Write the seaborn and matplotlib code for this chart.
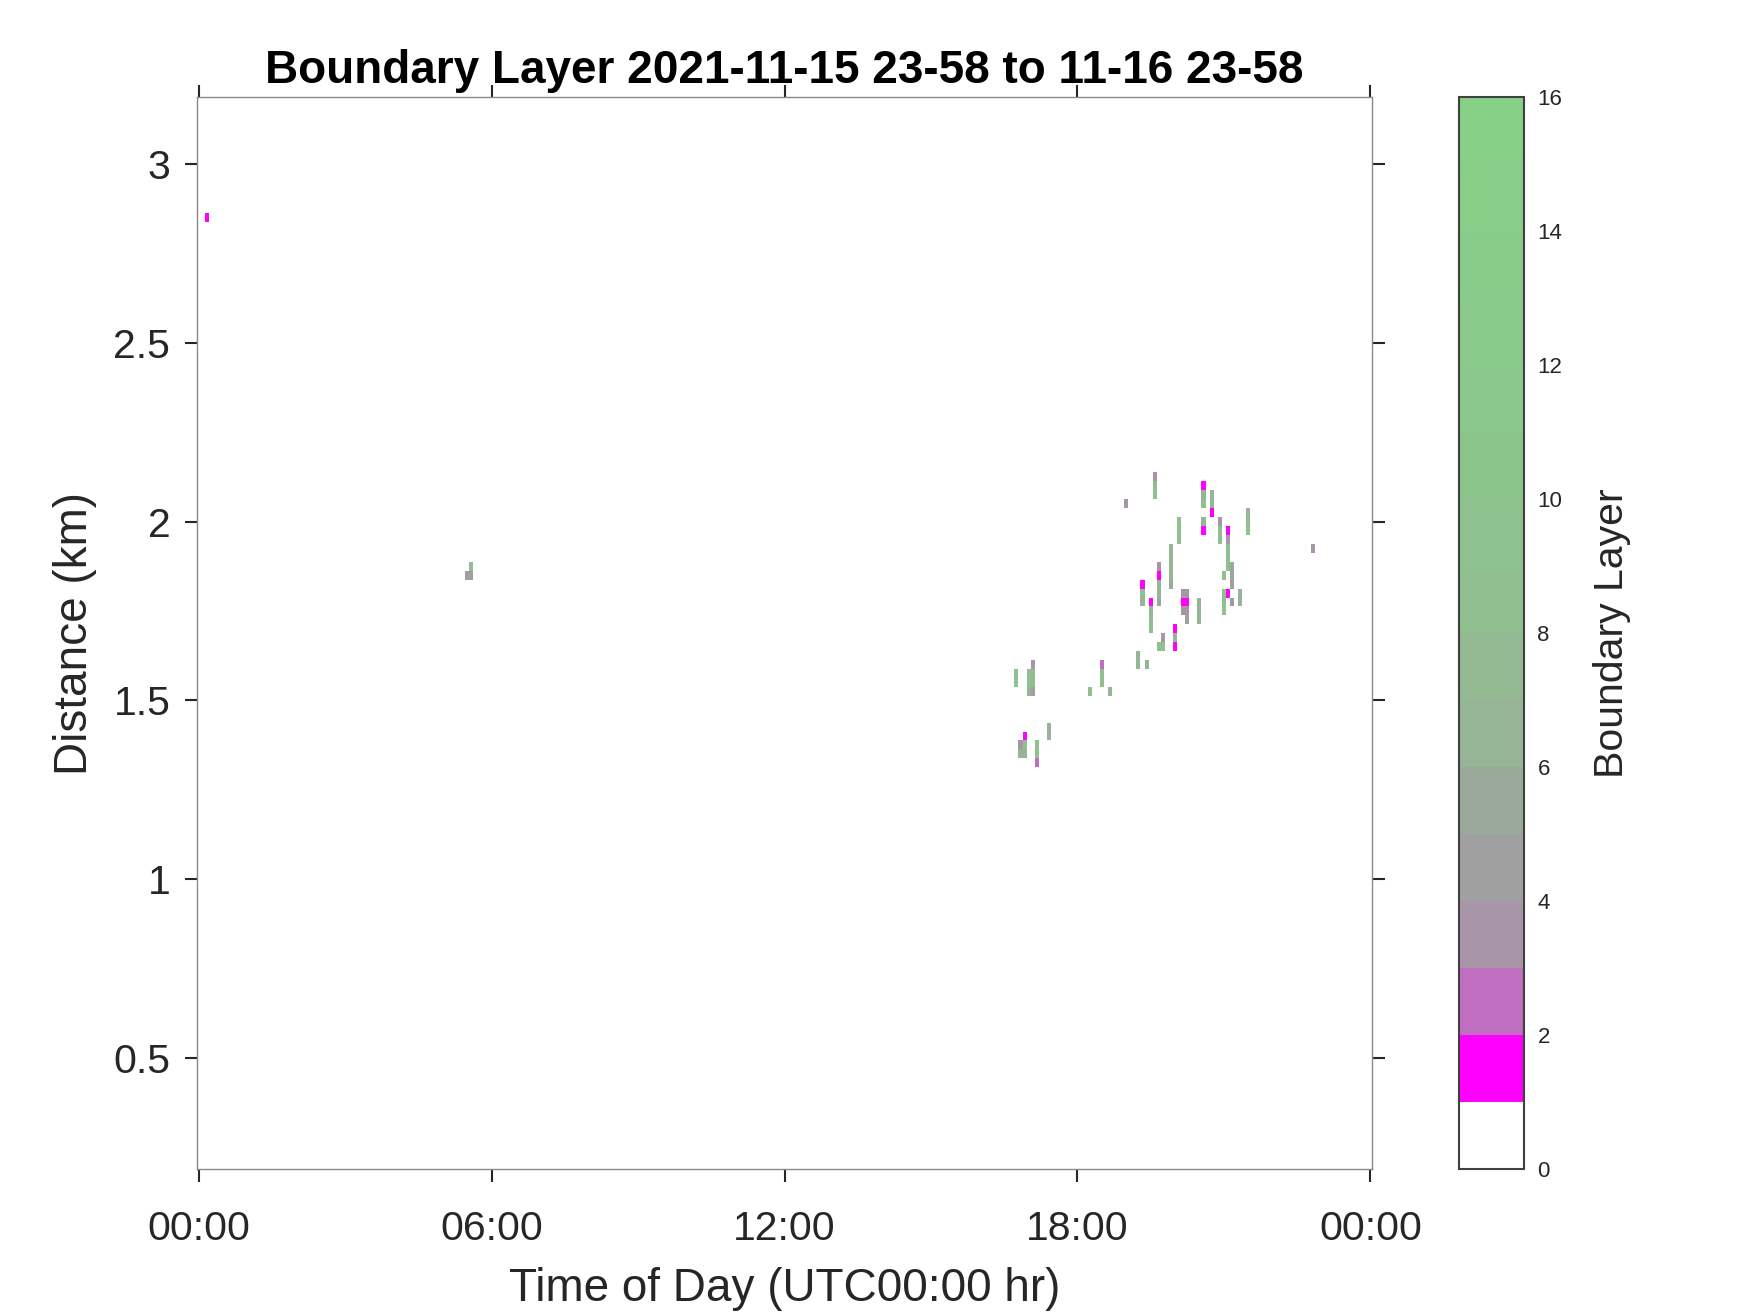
import numpy as np
import pandas as pd
import matplotlib
matplotlib.use("Agg")
import matplotlib.pyplot as plt
import seaborn as sns
from matplotlib.colors import ListedColormap

# ---------------- datos ----------------
# cada celda no vacía: minuto del día (centro del bin de 5 min), altura (km) y clase
cell_minute = [
    10, 335, 330, 335,
    1175, 1175, 1175, 1140,
    1235, 1235, 1235, 1235, 1235,
    1245, 1245, 1245,
    1205, 1205, 1205,
    1255, 1255, 1255,
    1265, 1265, 1265, 1265, 1265,
    1270, 1270, 1270, 1260,
    1265, 1260, 1260, 1260, 1270,
    1280, 1280,
    1290, 1290, 1290,
    1370,
    1195, 1195, 1195, 1195, 1195,
    1180, 1180, 1180, 1180, 1180,
    1160, 1160, 1160,
    1170, 1170, 1170, 1170,
    1210, 1210, 1210, 1215, 1215, 1215, 1215,
    1230, 1230, 1230,
    1200, 1200, 1200,
    1185, 1185, 1180,
    1155, 1155, 1165,
    1005, 1005,
    1025, 1025, 1025, 1025, 1020, 1020, 1020,
    1110, 1110, 1110,
    1095, 1120,
    1045, 1045,
    1015, 1010, 1015, 1010, 1015,
    1030, 1030, 1030,
]
cell_km = [
    2.85, 1.875, 1.85, 1.85,
    2.125, 2.1, 2.075, 2.05,
    2.1, 2.075, 2.05, 2.0, 1.975,
    2.075, 2.05, 2.025,
    2.0, 1.975, 1.95,
    2.0, 1.975, 1.95,
    1.975, 1.95, 1.925, 1.9, 1.875,
    1.875, 1.85, 1.825, 1.85,
    1.8, 1.8, 1.775, 1.75, 1.775,
    1.8, 1.775,
    2.025, 2.0, 1.975,
    1.925,
    1.925, 1.9, 1.875, 1.85, 1.825,
    1.875, 1.85, 1.825, 1.8, 1.775,
    1.825, 1.8, 1.775,
    1.775, 1.75, 1.725, 1.7,
    1.8, 1.775, 1.75, 1.8, 1.775, 1.75, 1.725,
    1.775, 1.75, 1.725,
    1.7, 1.675, 1.65,
    1.675, 1.65, 1.65,
    1.625, 1.6, 1.6,
    1.575, 1.55,
    1.6, 1.575, 1.55, 1.525, 1.575, 1.55, 1.525,
    1.6, 1.575, 1.55,
    1.525, 1.525,
    1.425, 1.4,
    1.4, 1.375, 1.375, 1.35, 1.35,
    1.375, 1.35, 1.325,
]
cell_value = [
    1, 8, 4, 4,
    3, 8, 8, 3,
    1, 6, 8, 6, 1,
    6, 6, 1,
    8, 8, 8,
    3, 8, 8,
    1, 3, 8, 8, 8,
    5, 5, 4, 8,
    1, 8, 8, 8, 3,
    6, 6,
    6, 8, 8,
    3,
    6, 6, 6, 6, 5,
    3, 1, 6, 6, 5,
    1, 8, 6,
    1, 6, 8, 8,
    3, 1, 3, 3, 1, 3, 4,
    6, 6, 6,
    1, 6, 1,
    3, 8, 8,
    6, 6, 6,
    8, 8,
    3, 8, 8, 4, 8, 8, 6,
    2, 8, 8,
    8, 6,
    6, 6,
    1, 3, 8, 6, 6,
    8, 8, 2,
]

# rejilla completa: bins de 5 minutos y de 25 m
minute_bins = np.arange(0, 1441, 5)
km_bins = np.round(np.arange(0.2, 3.18, 0.025), 3)

xtick_hours = [0, 6, 12, 18, 24]
xtick_labels = ["00:00", "06:00", "12:00", "18:00", "00:00"]
ytick_km = [0.5, 1, 1.5, 2, 2.5, 3]
ytick_labels = ["0.5", "1", "1.5", "2", "2.5", "3"]

# colores de la barra (16 clases)
class_colors = [
    "#FFFFFF", "#FF00FF", "#C06EC0", "#A896A8", "#A0A0A0", "#9AAA9A",
    "#96B496", "#93BA93", "#90BF90", "#8EC28E", "#8CC58C", "#8BC88B",
    "#8ACA8A", "#89CC89", "#88CE88", "#87D087",
]

# ---------------- construir la tabla ----------------
df = pd.DataFrame({"minute": cell_minute, "km": np.round(cell_km, 3), "value": cell_value})
grid = df.pivot_table(index="km", columns="minute", values="value", aggfunc="max")
grid = grid.reindex(index=km_bins, columns=minute_bins)

# ---------------- figura ----------------
sns.set_style("white")
plt.rcParams["font.family"] = ["Liberation Sans", "DejaVu Sans"]

fig = plt.figure(figsize=(17.5, 13.13), dpi=100)
ax = fig.add_axes([0.1124, 0.1095, 0.6718, 0.8164])
cax = fig.add_axes([0.8336, 0.1095, 0.0370, 0.8164])

cmap = ListedColormap(class_colors)
sns.heatmap(grid, ax=ax, cmap=cmap, vmin=0, vmax=16, cbar_ax=cax,
            xticklabels=False, yticklabels=False,
            cbar_kws={"ticks": np.arange(0, 17, 2)})

ax.set_xlim(0, len(minute_bins))
ax.set_ylim(0, len(km_bins))

step_km = km_bins[1] - km_bins[0]
ax.set_xticks([h * 12 + 0.5 for h in xtick_hours])
ax.set_xticklabels(xtick_labels)
ax.set_yticks([(v - km_bins[0]) / step_km + 0.5 for v in ytick_km])
ax.set_yticklabels(ytick_labels, rotation=0)

for s in ax.spines.values():
    s.set_visible(True)
    s.set_color("#8a8a8a")
    s.set_linewidth(1.0)

ax.tick_params(axis="both", which="major", direction="out", length=9, width=1.5,
               color="#262626", labelcolor="#262626", labelsize=29.5, pad=10,
               top=True, right=True, bottom=True, left=True)
ax.tick_params(axis="x", pad=20)

ax.set_xlabel("Time of Day (UTC00:00 hr)", fontsize=33, color="#262626", labelpad=14)
ax.set_ylabel("Distance (km)", fontsize=33, color="#262626", labelpad=12)
ax.set_title("Boundary Layer 2021-11-15 23-58 to 11-16 23-58",
             fontsize=33, fontweight="bold", color="black", pad=10)

cbar = ax.collections[0].colorbar
cbar.outline.set_visible(True)
cbar.outline.set_edgecolor("#404040")
cbar.outline.set_linewidth(1.5)
cbar.ax.tick_params(direction="in", length=8, width=1.2, color="#262626",
                    labelsize=16, labelcolor="#262626", pad=10)
cbar.set_label("Boundary Layer", fontsize=29.5, color="#262626", labelpad=22)

fig.savefig("out.png", dpi=100, facecolor="white")
